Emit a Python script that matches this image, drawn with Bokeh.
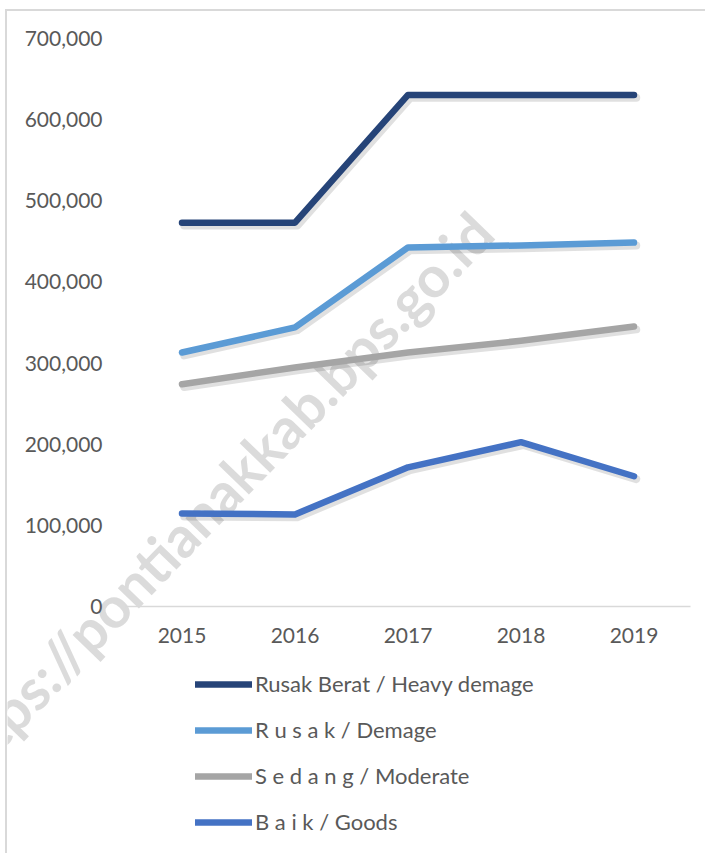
import math
from bokeh.plotting import figure
from bokeh.models import (ColumnDataSource, FixedTicker, NumeralTickFormatter,
                          Legend, LegendItem, Label, Range1d)
from bokeh.transform import dodge
from bokeh.embed import file_html
from bokeh.resources import INLINE

years = ["2015", "2016", "2017", "2018", "2019"]
heavy = [473000, 473000, 630500, 630500, 630500]
rusak = [313000, 344000, 442500, 445000, 448500]
sedang = [274000, 294500, 313000, 327500, 345000]
baik = [114500, 113500, 171500, 202500, 160500]

series_names = ["Rusak Berat / Heavy demage", "R u s a k / Demage",
                "S e d a n g / Moderate", "B a i k / Goods"]
series_values = [heavy, rusak, sedang, baik]
series_colors = ["#264478", "#5b9bd5", "#a5a5a5", "#4472c4"]
y_ticks = [0, 100000, 200000, 300000, 400000, 500000, 600000, 700000]

FONT = "Lato"
TXT = "#595959"

xpos = list(range(len(years)))

W, H = 700, 844
p = figure(width=W, height=H, output_backend="svg", toolbar_location=None,
           min_border_left=0, min_border_right=0, min_border_top=0,
           min_border_bottom=0)
# frame spans whole canvas; axes are pinned at the chart's own origin
p.x_range = Range1d(-1.5442, 4.6504)
p.y_range = Range1d(-306900, 733300)
p.outline_line_color = None
p.background_fill_color = "white"
p.border_fill_color = "white"
p.xgrid.grid_line_color = None
p.ygrid.grid_line_color = None
p.styles = {"margin-left": "5px", "margin-top": "9px",
            "border-left": "2px solid #d9d9d9", "border-top": "2px solid #d9d9d9"}

xa = p.xaxis[0]
ya = p.yaxis[0]
xa.fixed_location = 0
ya.fixed_location = -0.5
xa.bounds = (-0.5, len(years) - 0.5)
ya.bounds = (0, 700000)
xa.ticker = FixedTicker(ticks=xpos)
xa.major_label_overrides = {i: y for i, y in zip(xpos, years)}
ya.ticker = FixedTicker(ticks=y_ticks)
ya.formatter = NumeralTickFormatter(format="0,0")
ya.axis_line_color = None
xa.axis_line_color = "#d9d9d9"
xa.axis_line_width = 1.5
for ax in (xa, ya):
    ax.major_tick_line_color = None
    ax.minor_tick_line_color = None
    ax.major_tick_out = 0
    ax.major_tick_in = 0
    ax.minor_tick_out = 0
    ax.minor_tick_in = 0
    ax.major_label_text_font = FONT
    ax.major_label_text_font_size = "21px"
    ax.major_label_text_color = TXT
ya.major_label_standoff = 23
xa.major_label_standoff = 22

wm = Label(x=208, y=358, x_units="screen", y_units="screen",
           text="https://pontianakkab.bps.go.id", angle=math.radians(46),
           text_font=FONT, text_font_style="bold", text_font_size="57px",
           text_color="#a0a0a0", text_alpha=0.38, text_align="center",
           text_baseline="middle", level="underlay")
p.add_layout(wm)

src = ColumnDataSource(dict(x=xpos, heavy=heavy, rusak=rusak, sedang=sedang, baik=baik))
keys = ["heavy", "rusak", "sedang", "baik"]

# soft shadows
for k in keys:
    p.line(x=dodge("x", 0.02), y=dodge(k, -3500), source=src, line_width=8,
           line_color="black", line_alpha=0.12, line_cap="round", line_join="round")

renderers = []
for k, c in zip(keys, series_colors):
    r = p.line(x="x", y=k, source=src, line_width=6.5, line_color=c,
               line_cap="round", line_join="round")
    renderers.append(r)

items = [LegendItem(label=n, renderers=[r]) for n, r in zip(series_names, renderers)]
legend = Legend(items=items, location=(188, 20), orientation="vertical",
                glyph_width=57, glyph_height=20, label_height=20, spacing=19,
                label_standoff=3, padding=0, margin=0,
                label_text_font=FONT, label_text_font_size="22px",
                label_text_color=TXT, border_line_alpha=0,
                background_fill_alpha=0)
p.add_layout(legend, "center")

open("out.html", "w").write(file_html(p, INLINE))
